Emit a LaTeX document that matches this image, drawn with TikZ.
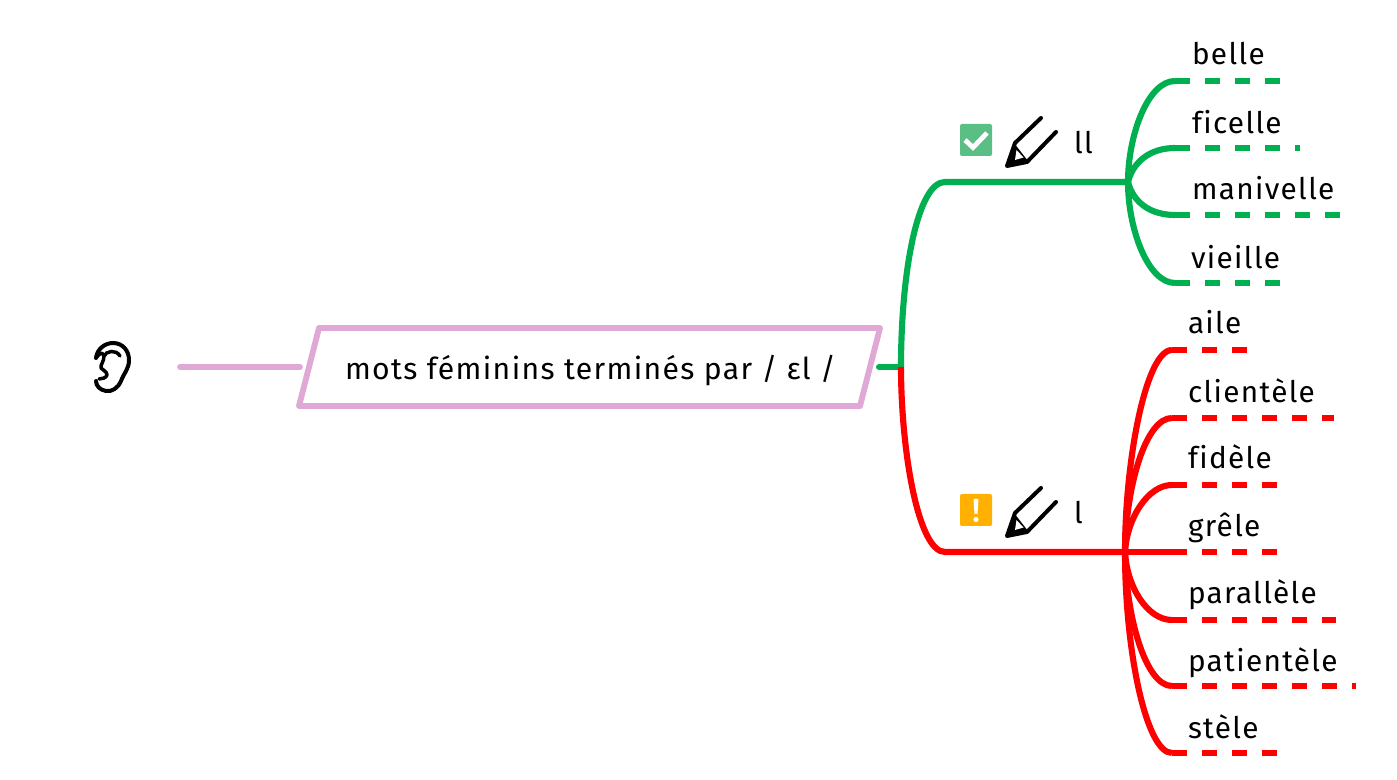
\documentclass[tikz,border=0pt]{standalone}
\usepackage{fontspec}
\setmainfont[LetterSpace=4.5,Ligatures=NoCommon]{Fira Sans}
\definecolor{pinkc}{HTML}{E0A8D4}
\definecolor{greenc}{HTML}{00B050}
\definecolor{redc}{HTML}{FF0000}
\definecolor{checkc}{HTML}{5ABF85}
\definecolor{warnc}{HTML}{FFB000}
\tikzset{
  lab/.style={anchor=base west,inner sep=0pt,outer sep=0pt,text=black,font=\fontsize{22.3pt}{26pt}\selectfont},
  maintext/.style={lab,font=\fontsize{22.6pt}{26pt}\selectfont},
  wire/.style={line width=4.6pt,line cap=butt},
  dashwire/.style={wire,dash pattern=on 11.25pt off 11.25pt},
  pinkline/.style={line width=4.4pt,draw=pinkc,line cap=round,line join=round},
  pencilicon/.pic={
    \fill[black] (1,-1) -- (8,-24) -- (22,-6) -- cycle;
    \fill[white] (10.5,-17) -- (17.5,-9.5) -- (9,-7) -- cycle;
    \draw[line width=3pt,line join=round,line cap=round,black]
      (35,-49) -- (9,-24) -- (1,-1) -- (21,-5) -- (50,-35);
  }
}
\begin{document}
\begin{tikzpicture}[x=0.75pt,y=-0.75pt]
\useasboundingbox (0,0) rectangle (1397,780);
% ear
\draw[black,line width=3pt,line cap=round,line join=round]
  (96,358) .. controls (97,349) and (105,343) .. (113,343)
  .. controls (123,343) and (129,351) .. (129,360)
  .. controls (129,369) and (124,373) .. (121,381)
  .. controls (118,388) and (112,392) .. (106,391)
  .. controls (100,390) and (96,386) .. (96,381);
\draw[black,line width=2.6pt,line cap=round,line join=round]
  (96,358) .. controls (101,352) and (102,352) .. (104,356)
  .. controls (104,362) and (100,365) .. (101,368)
  .. controls (103,371) and (107,371) .. (107,375)
  .. controls (106,378) and (102,379) .. (99,379);
\draw[black,line width=2.6pt,line cap=round]
  (104,356) .. controls (106,351) and (116,349) .. (120,356);
% main topic
\coordinate (pa) at (319,328);
\coordinate (pb) at (880,328);
\coordinate (pc) at (860,406);
\coordinate (pd) at (299,406);
\coordinate (earend) at (180,367);
\coordinate (pleft) at (300,367);
\draw[pinkline] (pa) -- (pb) -- (pc) -- (pd) -- cycle;
\draw[pinkline] (earend) -- (pleft);
\node[maintext] (main) at (345,379.5) {mots féminins terminés par / ɛl /};
% trunk
\coordinate (stub) at (879,367);
\coordinate (fork) at (901,367);
\coordinate (gelbow) at (945,182);
\coordinate (gjoin) at (1128,182);
\coordinate (relbow) at (945,552);
\coordinate (rjoin) at (1125,552);
\draw[greenc,wire,line cap=round] (stub) -- (fork);
\draw[greenc,wire] (fork) .. controls (901,270) and (918,182) .. (gelbow) -- (gjoin);
% green leaves
\coordinate (g1) at (1175,81);   \coordinate (g1e) at (1280,81);
\coordinate (g2) at (1175,148);  \coordinate (g2e) at (1300,148);
\coordinate (g3) at (1175,215);  \coordinate (g3e) at (1340,215);
\coordinate (g4) at (1175,283);  \coordinate (g4e) at (1280,283);
\draw[greenc,wire] (gjoin) .. controls (1128,135) and (1148,81) .. (g1);
\draw[greenc,wire] (gjoin) .. controls (1133,162) and (1150,148) .. (g2);
\draw[greenc,wire] (gjoin) .. controls (1133,202) and (1150,215) .. (g3);
\draw[greenc,wire] (gjoin) .. controls (1128,229) and (1148,283) .. (g4);
\draw[greenc,dashwire] (g1) -- (g1e);
\draw[greenc,dashwire] (g2) -- (g2e);
\draw[greenc,dashwire] (g3) -- (g3e);
\draw[greenc,dashwire] (g4) -- (g4e);
% red
\draw[redc,wire] (fork) .. controls (901,450) and (918,552) .. (relbow) -- (rjoin);
\coordinate (r1) at (1172,350);  \coordinate (r1e) at (1247,350);
\coordinate (r2) at (1172,418);  \coordinate (r2e) at (1334,418);
\coordinate (r3) at (1172,485);  \coordinate (r3e) at (1277,485);
\coordinate (r4) at (1172,552);  \coordinate (r4e) at (1277,552);
\coordinate (r5) at (1172,620);  \coordinate (r5e) at (1336,620);
\coordinate (r6) at (1172,686);  \coordinate (r6e) at (1356,686);
\coordinate (r7) at (1172,753);  \coordinate (r7e) at (1277,753);
\draw[redc,wire] (rjoin) .. controls (1125,460) and (1146,350) .. (r1);
\draw[redc,wire] (rjoin) .. controls (1126,485) and (1146,418) .. (r2);
\draw[redc,wire] (rjoin) .. controls (1127,518) and (1148,485) .. (r3);
\draw[redc,wire] (rjoin) -- (r4);
\draw[redc,wire] (rjoin) .. controls (1127,588) and (1148,620) .. (r5);
\draw[redc,wire] (rjoin) .. controls (1126,618) and (1146,686) .. (r6);
\draw[redc,wire] (rjoin) .. controls (1125,650) and (1146,753) .. (r7);
\draw[redc,dashwire] (r1) -- (r1e);
\draw[redc,dashwire] (r2) -- (r2e);
\draw[redc,dashwire] (r3) -- (r3e);
\draw[redc,dashwire] (r4) -- (r4e);
\draw[redc,dashwire] (r5) -- (r5e);
\draw[redc,dashwire] (r6) -- (r6e);
\draw[redc,dashwire] (r7) -- (r7e);
% icons
\fill[checkc,rounded corners=1.5pt] (960,124) rectangle (992,156);
\draw[white,line width=3.6pt] (965,140) -- (973,147.5) -- (987,133);
\fill[warnc,rounded corners=1.5pt] (960,494) rectangle (992,526);
\fill[white] (973.5,499) -- (978.5,499) -- (977.5,514) -- (974.5,514) -- cycle;
\fill[white] (976,519.5) circle (1.9pt);
\pic at (1006,167) {pencilicon};
\pic at (1006,537) {pencilicon};
% labels
\node[lab] (ll) at (1074,154) {ll};
\node[lab] (l) at (1074,524) {l};
\node[lab] (belle) at (1192,64.5) {belle};
\node[lab] (ficelle) at (1192,133.5) {ficelle};
\node[lab] (manivelle) at (1192,199.5) {manivelle};
\node[lab] (vieille) at (1191,268.5) {vieille};
\node[lab] (aile) at (1188,333.5) {aile};
\node[lab] (clientele) at (1188,402.5) {clientèle};
\node[lab] (fidele) at (1188,468.5) {fidèle};
\node[lab] (grele) at (1188,536.5) {grêle};
\node[lab] (parallele) at (1188,603.5) {parallèle};
\node[lab] (patientele) at (1188,671.5) {patientèle};
\node[lab] (stele) at (1188,738.5) {stèle};
\end{tikzpicture}
\end{document}
